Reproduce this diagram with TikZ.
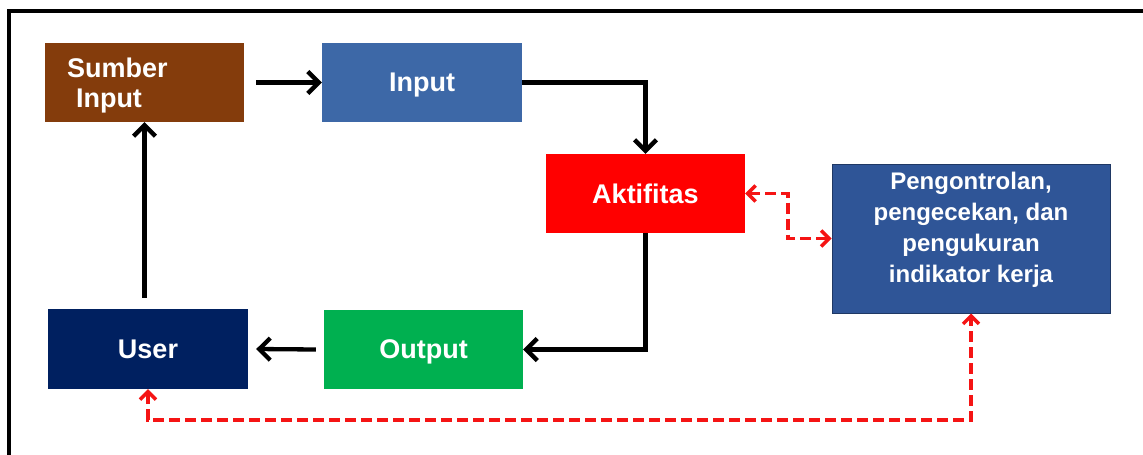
\documentclass[tikz,border=0pt]{standalone}
\usepackage{fontspec}
\setmainfont{Liberation Sans}
\usetikzlibrary{arrows.meta,calc}
\definecolor{cbrown}{HTML}{843C0C}
\definecolor{cinput}{HTML}{3D68A7}
\definecolor{cakt}{HTML}{FF0000}
\definecolor{cctrl}{HTML}{2F5597}
\definecolor{cctrlb}{HTML}{1F3864}
\definecolor{cuser}{HTML}{002060}
\definecolor{cout}{HTML}{00B050}
\definecolor{cred}{HTML}{F51414}
\begin{document}
\begin{tikzpicture}[x=1pt,y=-1pt,
  box/.style={draw=none, fill=#1, minimum width=199pt, minimum height=79pt,
    inner sep=0pt, text=white, text depth=0pt, font=\bfseries\fontsize{27}{30}\selectfont},
  flow/.style={line width=4.3pt, -{Straight Barb[length=11pt,width=22pt]}},
  ctrl/.style={line width=3.5pt, draw=cred, dash pattern=on 11pt off 5pt,
    {Straight Barb[length=8pt,width=16pt]}-{Straight Barb[length=8pt,width=16pt]}},
  frame/.style={line width=3.4pt, line cap=rect}]
\useasboundingbox (0,0) rectangle (1143,455);
% frame
\draw[frame] (9,455) -- (9,10.8) -- (1143,10.8);
% boxes
\node[box=cbrown, text width=155pt, inner xsep=22pt, align=left, text depth=30pt] (S) at (144.5,82.5) {Sumber\\\hspace*{9pt}Input};
\node[box=cinput, minimum width=200pt] (I) at (422,82.5) {Input};
\node[box=cakt] (A) at (645.5,193.5) {Aktifitas};
\node[box=cuser, minimum width=200pt, minimum height=80pt] (U) at (148,349) {User};
\node[box=cout] (O) at (423.5,349.5) {Output};
\node[box=cctrl, draw=cctrlb, line width=1pt, minimum width=278pt, minimum height=149pt,
  text depth=23pt, font=\bfseries\fontsize{24}{31}\selectfont, align=center] (P) at (971,238.5)
  {Pengontrolan,\\pengecekan, dan\\pengukuran\\indikator kerja};
% black flow
\draw[flow] ($(S.east)+(12,0)$) -- (I.west);
\draw[flow] (I.east) -| (A.north);
\draw[flow] (A.south) |- (O.east);
\draw[flow] ($(O.west)+(-8,0)$) -- ($(U.east)+(8,0)$);
\draw[flow] ($(S.south |- U.north)+(0,-11)$) -- (S.south);
% red control
\draw[ctrl] (A.east) -- ++(43,0) |- (P.west);
\draw[ctrl] (U.south) -- ++(0,31) -| (P.south);
\end{tikzpicture}
\end{document}
